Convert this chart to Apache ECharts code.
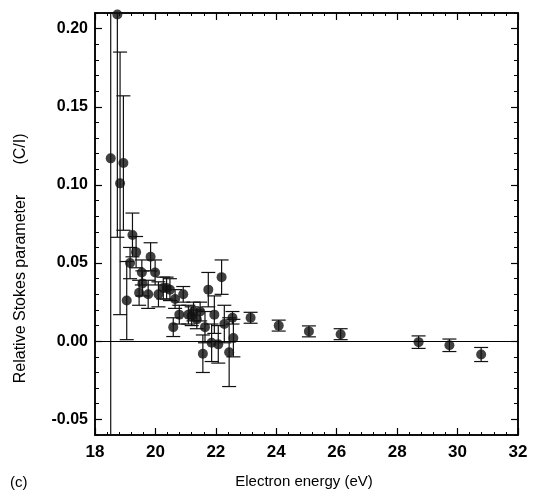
<!DOCTYPE html>
<html>
<head>
<meta charset="utf-8">
<script src="https://cdn.jsdelivr.net/npm/echarts@6/dist/echarts.min.js"></script>
<style>
	html, body { margin: 0; padding: 0; background: #fff; }
	#chart { width: 533px; height: 497px; }
</style>
</head>
<body>
<div id="chart"></div>
<script>
	// electron energy (eV)
	var energy = [18.52, 18.74, 18.83, 18.94, 19.05, 19.16, 19.24, 19.36, 19.46, 19.55,
		19.57, 19.76, 19.84, 19.99, 20.10, 20.26, 20.37, 20.48, 20.59, 20.65,
		20.79, 20.92, 21.09, 21.20, 21.26, 21.37, 21.48, 21.57, 21.64, 21.75,
		21.86, 21.95, 22.08, 22.19, 22.28, 22.44, 22.55, 22.58, 23.15, 24.08,
		25.08, 26.13, 28.71, 29.73, 30.78]
	// relative stokes parameter C/I
	var stokes = [0.117, 0.209, 0.101, 0.114, 0.026, 0.050, 0.068, 0.057, 0.031, 0.044,
		0.037, 0.030, 0.054, 0.044, 0.030, 0.034, 0.034, 0.033, 0.009, 0.027,
		0.017, 0.030, 0.017, 0.016, 0.019, 0.014, 0.019, -0.008, 0.009, 0.033,
		-0.001, 0.017, -0.002, 0.041, 0.011, -0.007, 0.015, 0.002, 0.015, 0.010,
		0.0063, 0.0045, -0.0006, -0.0026, -0.0085]
	// error bars (+/-)
	var errors = [0.19, 0.1425, 0.084, 0.043, 0.025, 0.010, 0.014, 0.010, 0.008, 0.008,
		0.008, 0.009, 0.009, 0.008, 0.008, 0.007, 0.007, 0.007, 0.006, 0.006,
		0.006, 0.005, 0.006, 0.006, 0.006, 0.006, 0.006, 0.012, 0.010, 0.011,
		0.012, 0.012, 0.012, 0.011, 0.012, 0.022, 0.004, 0.012, 0.0035, 0.0035,
		0.0035, 0.0035, 0.004, 0.004, 0.0045]

	var yMajor = [-0.05, 0, 0.05, 0.10, 0.15, 0.20]
	var xMin = 18, xMax = 32, yMin = -0.06, yMax = 0.21

	var points = []
	var bars = []
	for (var i = 0; i < energy.length; i++) {
		points.push([energy[i], stokes[i]])
		bars.push([energy[i], stokes[i], errors[i]])
	}

	var font = '"Liberation Sans", Arial, sans-serif'

	function renderBar(params, api) {
		var x = api.value(0), y = api.value(1), e = api.value(2)
		var hi = y + e, lo = y - e
		var hiCut = hi > yMax, loCut = lo < yMin
		if (hiCut) hi = yMax
		if (loCut) lo = yMin
		var top = api.coord([x, hi])
		var bot = api.coord([x, lo])
		var w = 7
		var style = { stroke: '#111', lineWidth: 1.2 }
		var kids = [{
			type: 'line',
			shape: { x1: top[0], y1: top[1], x2: bot[0], y2: bot[1] },
			style: style
		}]
		if (!hiCut) kids.push({ type: 'line', shape: { x1: top[0] - w, y1: top[1], x2: top[0] + w, y2: top[1] }, style: style })
		if (!loCut) kids.push({ type: 'line', shape: { x1: bot[0] - w, y1: bot[1], x2: bot[0] + w, y2: bot[1] }, style: style })
		return { type: 'group', children: kids }
	}

	var chart = echarts.init(document.getElementById('chart'))
	var option = {
		animation: false,
		backgroundColor: '#fff',
		grid: {
			left: 95,
			right: 15,
			top: 13,
			bottom: 62,
			show: true,
			borderColor: '#000',
			borderWidth: 1.5
		},
		xAxis: [{
			type: 'value',
			position: 'bottom',
			min: xMin,
			max: xMax,
			interval: 2,
			axisLine: { onZero: false, lineStyle: { color: '#000', width: 1.5 } },
			axisTick: { inside: true, length: 7, lineStyle: { color: '#000', width: 1.2 } },
			minorTick: { show: true, splitNumber: 5, length: 3, lineStyle: { color: '#000', width: 1 } },
			axisLabel: { color: '#000', fontSize: 17, fontWeight: 'bold', fontFamily: font, margin: 9 },
			splitLine: { show: false }
		}, {
			type: 'value',
			position: 'top',
			min: xMin,
			max: xMax,
			interval: 2,
			axisLine: { onZero: false, lineStyle: { color: '#000', width: 1.5 } },
			axisTick: { inside: true, length: 7, lineStyle: { color: '#000', width: 1.2 } },
			minorTick: { show: true, splitNumber: 5, length: 3, lineStyle: { color: '#000', width: 1 } },
			axisLabel: { show: false },
			splitLine: { show: false }
		}],
		yAxis: [{
			type: 'value',
			position: 'left',
			min: yMin,
			max: yMax,
			interval: 0.01,
			axisLine: { onZero: false, lineStyle: { color: '#000', width: 1.5 } },
			axisTick: { inside: true, length: 4, lineStyle: { color: '#000', width: 1 } },
			axisLabel: {
				color: '#000', fontSize: 16, fontWeight: 'bold', fontFamily: font, margin: 7,
				formatter: function (v) {
					var k = Math.round(v * 100)
					return (k % 5 === 0) ? (k / 100).toFixed(2) : ''
				}
			},
			splitLine: { show: false }
		}, {
			type: 'value',
			position: 'left',
			min: yMin,
			max: yMax,
			axisLine: { show: false },
			axisTick: { inside: true, length: 7, customValues: yMajor, lineStyle: { color: '#000', width: 1.2 } },
			axisLabel: { show: false, customValues: yMajor },
			splitLine: { show: false }
		}, {
			type: 'value',
			position: 'right',
			min: yMin,
			max: yMax,
			interval: 0.01,
			axisLine: { onZero: false, lineStyle: { color: '#000', width: 1.5 } },
			axisTick: { inside: true, length: 4, lineStyle: { color: '#000', width: 1 } },
			axisLabel: { show: false },
			splitLine: { show: false }
		}, {
			type: 'value',
			position: 'right',
			min: yMin,
			max: yMax,
			axisLine: { show: false },
			axisTick: { inside: true, length: 7, customValues: yMajor, lineStyle: { color: '#000', width: 1.2 } },
			axisLabel: { show: false, customValues: yMajor },
			splitLine: { show: false }
		}],
		graphic: [{
			type: 'text',
			left: 10,
			top: 475,
			style: { text: '(c)', fill: '#000', font: '15px ' + font }
		}, {
			type: 'text',
			x: 304,
			y: 482,
			style: { text: 'Electron energy (eV)', fill: '#000', font: '15px ' + font, align: 'center', verticalAlign: 'middle' }
		}, {
			type: 'text',
			x: 21,
			y: 289,
			rotation: Math.PI / 2,
			style: { text: 'Relative Stokes parameter', fill: '#000', font: '16px ' + font, align: 'center', verticalAlign: 'middle' }
		}, {
			type: 'text',
			x: 21,
			y: 149,
			rotation: Math.PI / 2,
			style: { text: '(C/I)', fill: '#000', font: '16px ' + font, align: 'center', verticalAlign: 'middle' }
		}],
		series: [{
			type: 'custom',
			xAxisIndex: 0,
			yAxisIndex: 0,
			renderItem: renderBar,
			data: bars,
			z: 2
		}, {
			type: 'scatter',
			xAxisIndex: 0,
			yAxisIndex: 0,
			symbol: 'circle',
			symbolSize: 10,
			itemStyle: { color: '#111' },
			data: points,
			z: 3,
			markLine: {
				silent: true,
				symbol: 'none',
				label: { show: false },
				lineStyle: { color: '#000', width: 1.2, type: 'solid' },
				data: [{ yAxis: 0 }]
			}
		}]
	}
	chart.setOption(option)
</script>
</body>
</html>
